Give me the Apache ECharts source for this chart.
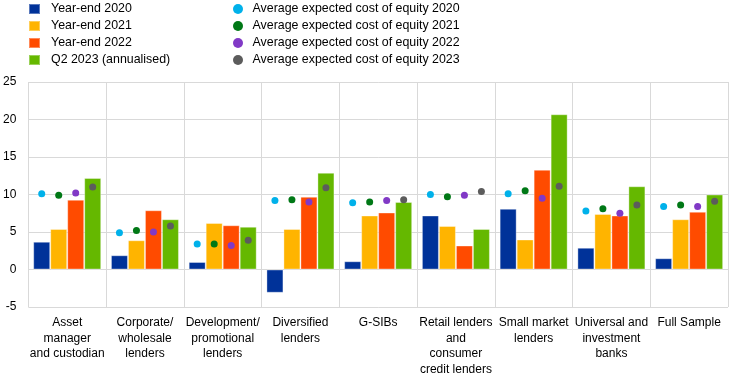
<!DOCTYPE html>
<html>
<head>
<meta charset="utf-8">
<script src="https://cdn.jsdelivr.net/npm/echarts@6/dist/echarts.min.js"></script>
<style>
  html, body { margin: 0; padding: 0; background: #fff; }
  #main { width: 744px; height: 378px; }
</style>
</head>
<body>
<div id="main"></div>
<script>
// categories of banks
var categories = [
  'Asset\nmanager\nand custodian',
  'Corporate/\nwholesale\nlenders',
  'Development/\npromotional\nlenders',
  'Diversified\nlenders',
  'G-SIBs',
  'Retail lenders\nand\nconsumer\ncredit lenders',
  'Small market\nlenders',
  'Universal and\ninvestment\nbanks',
  'Full Sample'
];

// return on equity (bars)
var roe2020 = [3.7, 1.9, 1.0, -3.1, 1.1, 7.2, 8.1, 2.9, 1.5];
var roe2021 = [5.4, 3.9, 6.2, 5.4, 7.2, 5.8, 4.0, 7.4, 6.7];
var roe2022 = [9.3, 7.9, 5.9, 9.7, 7.6, 3.2, 13.3, 7.2, 7.7];
var roe2023 = [12.2, 6.7, 5.7, 12.9, 9.0, 5.4, 20.7, 11.1, 10.0];

// average expected cost of equity (dots)
var coe2020 = [10.1, 4.9, 3.4, 9.2, 8.9, 10.0, 10.1, 7.8, 8.4];
var coe2021 = [9.9, 5.2, 3.4, 9.3, 9.0, 9.7, 10.5, 8.1, 8.6];
var coe2022 = [10.2, 5.0, 3.2, 9.0, 9.2, 9.9, 9.5, 7.5, 8.4];
var coe2023 = [11.0, 5.8, 3.9, 10.9, 9.3, 10.4, 11.1, 8.6, 9.1];

var yTicks = { min: -5, max: 25, interval: 5 };

var chart = echarts.init(document.getElementById('main'));

function bar(name, data, color) {
  return {
    name: name,
    type: 'bar',
    data: data,
    barWidth: 17,
    barGap: 0,
    itemStyle: { color: color, borderColor: 'rgba(255,255,255,0.35)', borderWidth: 1 },
    emphasis: { disabled: true }
  };
}

// dots sit on top of the matching bar slot
function dot(name, data, color) {
  return {
    name: name,
    type: 'pictorialBar',
    data: data,
    barWidth: 17,
    barGap: 0,
    symbol: 'circle',
    symbolSize: 7,
    symbolPosition: 'end',
    symbolOffset: [0, '-50%'],
    itemStyle: { color: color },
    z: 5
  };
}

var txt = { fontFamily: 'Liberation Sans, Arial, sans-serif', fontSize: 12, color: '#000' };

var option = {
  animation: false,
  backgroundColor: '#fff',
  textStyle: txt,
  legend: [{
    orient: 'vertical',
    left: 28,
    top: 3,
    padding: 0,
    itemWidth: 11,
    itemHeight: 10,
    itemGap: 5,
    icon: 'rect',
    textStyle: { fontFamily: txt.fontFamily, fontSize: 12.4, color: '#000', padding: [0, 0, 0, 6] },
    data: ['Year-end 2020', 'Year-end 2021', 'Year-end 2022', 'Q2 2023 (annualised)']
  }, {
    orient: 'vertical',
    left: 233,
    top: 3,
    padding: 0,
    itemWidth: 11,
    itemHeight: 10,
    itemGap: 5,
    icon: 'circle',
    textStyle: { fontFamily: txt.fontFamily, fontSize: 12.4, color: '#000', padding: [0, 0, 0, 4] },
    data: ['Average expected cost of equity 2020', 'Average expected cost of equity 2021',
           'Average expected cost of equity 2022', 'Average expected cost of equity 2023']
  }],
  grid: { left: 28, right: 16, top: 82, bottom: 71, containLabel: false },
  xAxis: {
    type: 'category',
    data: categories,
    axisLine: { show: false },
    axisTick: { show: false },
    splitLine: { show: true, lineStyle: { color: '#d9d9d9', width: 1 } },
    axisLabel: {
      interval: 0,
      margin: 8,
      lineHeight: 15.5,
      fontFamily: txt.fontFamily,
      fontSize: 12,
      color: '#000'
    }
  },
  yAxis: {
    type: 'value',
    min: yTicks.min,
    max: yTicks.max,
    interval: yTicks.interval,
    axisLine: { show: false },
    axisTick: { show: false },
    splitLine: { lineStyle: { color: '#d9d9d9', width: 1 } },
    axisLabel: { margin: 12, fontFamily: txt.fontFamily, fontSize: 12, color: '#000' }
  },
  series: [
    bar('Year-end 2020', roe2020, '#003299'),
    bar('Year-end 2021', roe2021, '#FFB400'),
    bar('Year-end 2022', roe2022, '#FF4B00'),
    bar('Q2 2023 (annualised)', roe2023, '#65B800'),
    dot('Average expected cost of equity 2020', coe2020, '#00B1EA'),
    dot('Average expected cost of equity 2021', coe2021, '#007816'),
    dot('Average expected cost of equity 2022', coe2022, '#8139C6'),
    dot('Average expected cost of equity 2023', coe2023, '#5C5C5C')
  ]
};

chart.setOption(option);
</script>
</body>
</html>
